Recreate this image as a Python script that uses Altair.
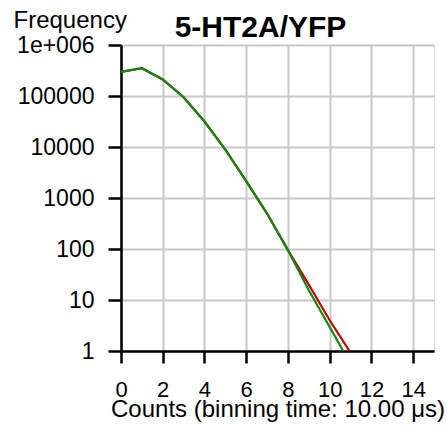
import altair as alt
import pandas as pd

counts = list(range(12))
green_freq = [296000, 350000, 211000, 94500, 31600, 8900, 2140, 495, 95, 15.5, 2.95, 0.56]
red_freq = [296000, 350000, 211000, 94500, 31600, 8900, 2140, 495, 95, 20, 4.0, 0.93]

df = pd.DataFrame({
    "count": counts * 2,
    "freq": red_freq + green_freq,
    "series": ["red"] * len(counts) + ["green"] * len(counts),
    "order": [0] * len(counts) + [1] * len(counts),
})

x_ticks = [0, 2, 4, 6, 8, 10, 12, 14]
y_ticks = [1, 10, 100, 1000, 10000, 100000, 1000000]

FONT = "Liberation Sans"

x_scale = alt.Scale(domain=[0, 15], nice=False, zero=False)
y_scale = alt.Scale(type="log", domain=[1, 1000000], nice=False)

x_axis = alt.Axis(
    values=x_ticks, title="Counts (binning time: 10.00 \u03bcs)",
    grid=True, gridColor="#c8c8c8", gridWidth=2,
    domainColor="black", domainWidth=2.5,
    tickColor="black", tickWidth=2.5, tickSize=12,
    labelFont=FONT, labelFontSize=22, labelColor="black",
    labelBaseline="alphabetic", labelPadding=33, labelFlush=False,
    titleFont=FONT, titleFontSize=24, titleFontWeight="normal", titleColor="black",
    titleBaseline="alphabetic", titleY=65,
)
y_axis = alt.Axis(
    values=y_ticks,
    labelExpr="datum.value >= 1000000 ? '1e+006' : format(datum.value, 'd')",
    grid=True, gridColor="#c8c8c8", gridWidth=2,
    domainColor="black", domainWidth=2.5,
    tickColor="black", tickWidth=2.5, tickSize=13,
    labelFont=FONT, labelFontSize=23, labelColor="black", labelPadding=14,
    labelFlush=False,
    title="Frequency", titleFont=FONT, titleFontSize=24, titleFontWeight="normal",
    titleColor="black", titleAngle=0, titleAlign="left", titleBaseline="alphabetic",
    titleX=-108, titleY=-18,
)

chart = alt.Chart(df).mark_line(strokeWidth=2.2, clip=True).encode(
    x=alt.X("count:Q", scale=x_scale, axis=x_axis),
    y=alt.Y("freq:Q", scale=y_scale, axis=y_axis),
    color=alt.Color("series:N", scale=alt.Scale(domain=["red", "green"], range=["#c80000", "#108810"]), legend=None),
    order=alt.Order("order:Q"),
    detail="series:N",
).properties(
    width=313, height=306,
    title=alt.TitleParams("5-HT2A/YFP", font=FONT, fontSize=30, fontWeight="bold",
                          color="black", anchor="middle", dx=-17, offset=-59,
                          baseline="alphabetic"),
    autosize=alt.AutoSizeParams(type="none"),
    padding={"left": 121, "top": 45, "right": 13, "bottom": 76},
).configure_view(
    stroke="#c8c8c8", strokeWidth=2,
).configure(background="white")

chart.save("out.html", embed_options={"renderer": "svg", "actions": False})
